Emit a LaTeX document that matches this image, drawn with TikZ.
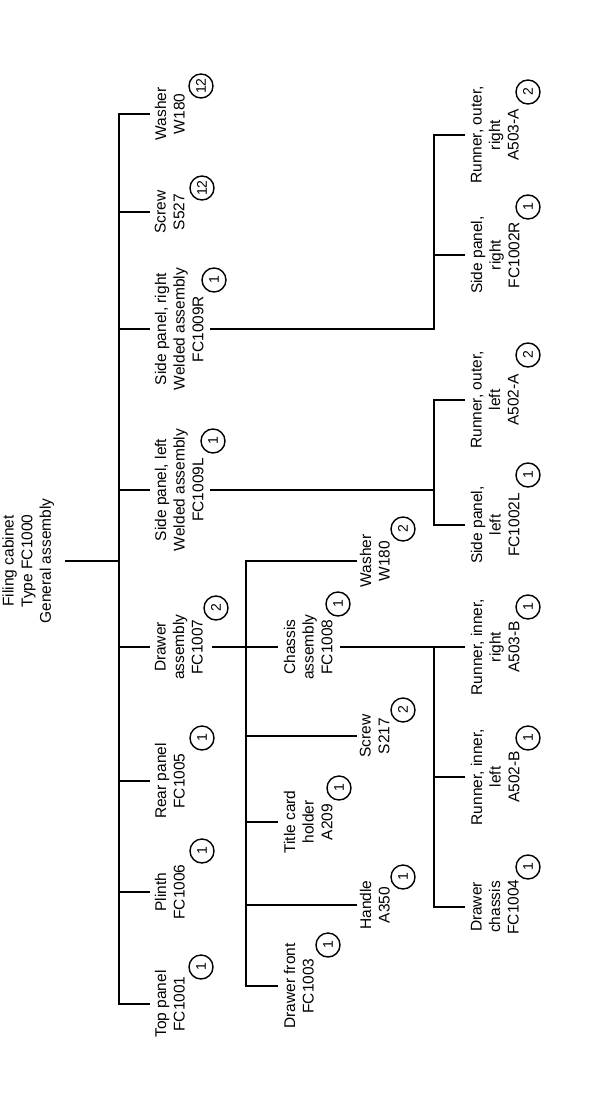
\documentclass[tikz,border=0pt]{standalone}
\usepackage{fontspec}
\setmainfont{Liberation Sans}
\begin{document}
\begin{tikzpicture}[x=1pt,y=-1pt, line width=1.7pt,
  lbl/.style={rotate=90, anchor=north, align=center, inner sep=0pt, font=\fontsize{15.5}{18.6}\selectfont},
  qty/.style={circle, draw, line width=1.4pt, minimum size=24pt, inner sep=0pt, rotate=90, font=\fontsize{14}{14}\selectfont}]
\useasboundingbox (0,0) rectangle (600,1102);

\coordinate (s1) at (119,0);
\coordinate (s2) at (246,0);
\coordinate (s3) at (434,0);

% root
\node[lbl, anchor=south] (root) at (55,561) {Filing cabinet\\Type FC1000\\General assembly};

% level 1
\node[lbl] (washA)   at (154,114)  {Washer\\W180};
\node[lbl] (screwA)  at (154,212)  {Screw\\S527};
\node[lbl] (sprA)    at (154,329)  {Side panel, right\\Welded assembly\\FC1009R};
\node[lbl] (splA)    at (154,490)  {Side panel, left\\Welded assembly\\FC1009L};
\node[lbl] (drawA)   at (154,647)  {Drawer\\assembly\\FC1007};
\node[lbl] (rearA)   at (154,781)  {Rear panel\\FC1005};
\node[lbl] (plinthA) at (154,892)  {Plinth\\FC1006};
\node[lbl] (topA)    at (154,1004) {Top panel\\FC1001};

% level 2
\node[lbl] (washB)   at (359,561) {Washer\\W180};
\node[lbl] (chasB)   at (283,647) {Chassis\\assembly\\FC1008};
\node[lbl] (screwB)  at (359,736) {Screw\\S217};
\node[lbl] (titleB)  at (283,822) {Title card\\holder\\A209};
\node[lbl] (handleB) at (359,905) {Handle\\A350};
\node[lbl] (frontB)  at (283,986) {Drawer front\\FC1003};

% level 3
\node[lbl] (rorC) at (470,135) {Runner, outer,\\right\\A503-A};
\node[lbl] (sprC) at (470,255) {Side panel,\\right\\FC1002R};
\node[lbl] (rolC) at (470,400) {Runner, outer,\\left\\A502-A};
\node[lbl] (splC) at (470,525) {Side panel,\\left\\FC1002L};
\node[lbl] (rirC) at (470,647) {Runner, inner,\\right\\A503-B};
\node[lbl] (rilC) at (470,777) {Runner, inner,\\left\\A502-B};
\node[lbl] (dchC) at (470,907) {Drawer\\chassis\\FC1004};

% quantities
\node[qty] (qwashA)   at (201,86)  {12};
\node[qty] (qscrewA)  at (202,188) {12};
\node[qty] (qsprA)    at (214,280) {1};
\node[qty] (qsplA)    at (213,441) {1};
\node[qty] (qdrawA)   at (216,608) {2};
\node[qty] (qrearA)   at (202,738) {1};
\node[qty] (qplinthA) at (202,851) {1};
\node[qty] (qtopA)    at (201,967) {1};

\node[qty] (qwashB)   at (403,529) {2};
\node[qty] (qchasB)   at (338,604) {1};
\node[qty] (qscrewB)  at (403,710) {2};
\node[qty] (qtitleB)  at (339,788) {1};
\node[qty] (qhandleB) at (403,877) {1};
\node[qty] (qfrontB)  at (328,945) {1};

\node[qty] (qrorC) at (528,92)  {2};
\node[qty] (qsprC) at (528,207) {1};
\node[qty] (qrolC) at (528,355) {2};
\node[qty] (qsplC) at (528,475) {1};
\node[qty] (qrirC) at (528,607) {1};
\node[qty] (qrilC) at (528,738) {1};
\node[qty] (qdchC) at (528,867) {1};

% level 1 connectors
\draw ([xshift=-4pt]washA.north) -- (washA.north -| s1) -- (topA.north -| s1) -- ([xshift=-4pt]topA.north);
\foreach \n in {screwA,sprA,splA,drawA,rearA,plinthA}
  \draw (\n.north -| s1) -- ([xshift=-4pt]\n.north);
\draw ([xshift=10pt]root.south) -- (root.south -| s1);

% level 2 connectors
\draw ([xshift=-2pt]washB.north) -- (washB.north -| s2) -- (frontB.north -| s2) -- ([xshift=-5pt]frontB.north);
\draw ([xshift=8pt]drawA.south) -- ([xshift=-5pt]chasB.north);
\foreach \n in {screwB,handleB}
  \draw (\n.north -| s2) -- ([xshift=-2pt]\n.north);
\draw (titleB.north -| s2) -- ([xshift=-5pt]titleB.north);

% level 3 connectors
\draw ([xshift=7pt]chasB.south) -- ([xshift=-5pt]rirC.north);
\draw (rirC.north -| s3) -- (dchC.north -| s3) -- ([xshift=-5pt]dchC.north);
\draw (rilC.north -| s3) -- ([xshift=-5pt]rilC.north);
\draw ([xshift=-5pt]rolC.north) -- (rolC.north -| s3) -- (splC.north -| s3) -- ([xshift=-5pt]splC.north);
\draw ([xshift=6pt]splA.south) -- (splA.south -| s3);
\draw ([xshift=-5pt]rorC.north) -- (rorC.north -| s3) -- (sprA.south -| s3) -- ([xshift=6pt]sprA.south);
\draw (sprC.north -| s3) -- ([xshift=-5pt]sprC.north);
\end{tikzpicture}
\end{document}
